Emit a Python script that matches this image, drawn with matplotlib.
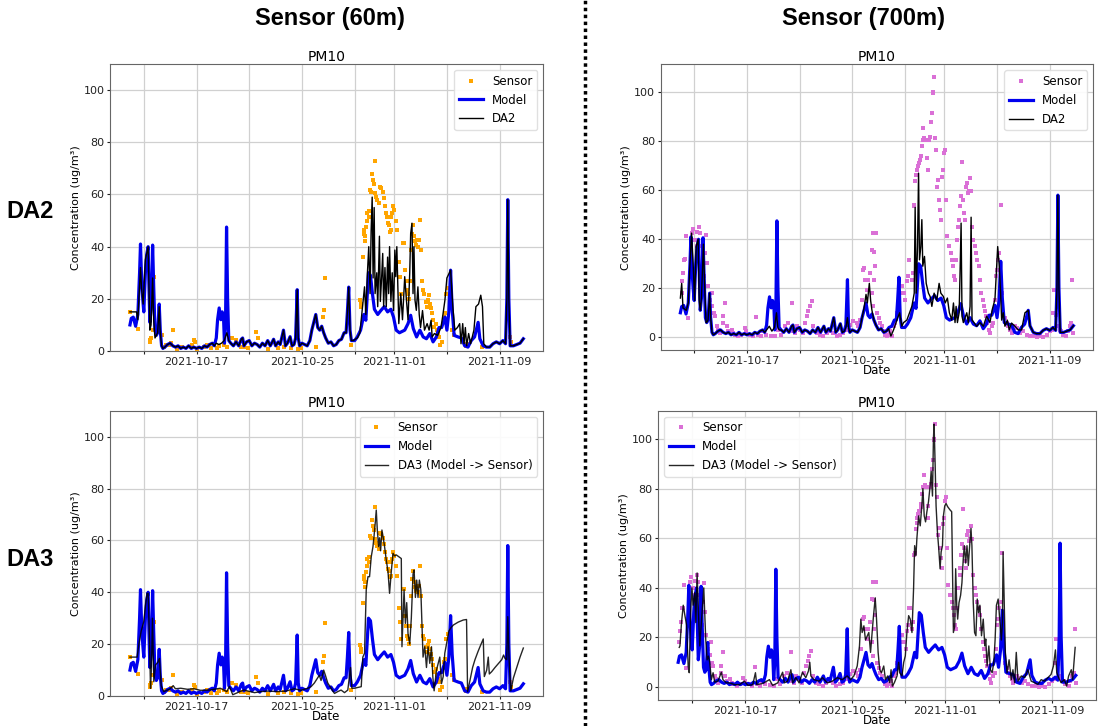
import numpy as np
import pandas as pd
import matplotlib
matplotlib.use("Agg")
import matplotlib.pyplot as plt
from matplotlib.lines import Line2D

# ---------------- data (time in days after 2021-10-13 00:00, value in ug/m3) ----------------
BASE = pd.Timestamp("2021-10-13")

model_pts = [
    (-1.05, 10), (-0.95, 12.5), (-0.8, 13), (-0.62, 9.5), (-0.45, 14), (-0.32, 30), (-0.25, 41),
    (-0.17, 28), (-0.08, 20), (0.0, 15), (0.12, 30), (0.22, 37), (0.33, 40), (0.39, 25), (0.46, 11),
    (0.55, 16), (0.67, 40.6), (0.75, 25), (0.85, 8), (0.95, 6), (1.05, 7), (1.17, 18), (1.25, 8),
    (1.35, 2), (1.45, 1), (1.6, 1.5), (1.8, 2.5), (2.0, 3), (2.2, 2), (2.4, 1.5), (2.6, 2), (2.8, 1),
    (3.0, 1.5), (3.2, 1), (3.4, 2), (3.6, 1), (3.8, 1.5), (4.0, 1), (4.2, 1.5), (4.4, 1), (4.6, 2),
    (4.8, 1.5), (5.0, 2.5), (5.2, 3), (5.35, 2), (5.5, 5), (5.6, 12), (5.72, 16.5), (5.85, 12),
    (5.95, 15), (6.05, 13), (6.12, 3), (6.2, 10), (6.28, 47.5), (6.36, 20), (6.45, 4), (6.6, 3),
    (6.8, 2), (7.0, 3.5), (7.2, 2), (7.4, 4.5), (7.5, 5), (7.6, 2), (7.8, 3.5), (8.0, 4), (8.2, 2),
    (8.4, 3), (8.6, 2.5), (8.8, 1.5), (9.0, 3), (9.2, 2), (9.4, 4), (9.6, 2), (9.85, 4.5), (10.0, 2),
    (10.2, 3.5), (10.35, 2.5), (10.6, 8), (10.75, 2), (10.9, 3), (11.1, 5.5), (11.25, 2), (11.4, 2.5),
    (11.52, 5), (11.64, 23.5), (11.72, 5), (11.82, 2), (12.0, 3), (12.2, 2.5), (12.4, 2), (12.6, 4),
    (12.75, 8), (12.9, 11), (13.05, 14), (13.2, 9), (13.35, 8), (13.5, 9.5), (13.65, 7), (13.8, 5),
    (14.0, 3), (14.2, 3.5), (14.4, 2), (14.6, 2.5), (14.8, 4), (15.0, 4.5), (15.2, 7), (15.35, 7),
    (15.45, 15), (15.55, 24.5), (15.65, 8), (15.75, 4), (16.0, 4), (16.2, 5.4), (16.45, 8), (16.7, 14),
    (16.85, 11.8), (17.05, 30), (17.2, 29), (17.35, 22), (17.5, 16), (17.75, 14), (18.0, 15.6),
    (18.25, 17), (18.5, 15), (18.75, 16), (18.95, 13), (19.15, 8), (19.4, 7), (19.8, 8), (20.05, 10.5),
    (20.25, 13.7), (20.45, 8.6), (20.7, 5.4), (20.95, 8), (21.2, 5.4), (21.45, 4.7), (21.7, 6.7),
    (21.95, 3.5), (22.2, 5.4), (22.4, 9), (22.6, 9), (22.85, 13), (23.0, 8), (23.15, 15), (23.28, 31),
    (23.4, 16), (23.55, 6), (23.85, 5.4), (24.1, 5), (24.35, 2), (24.6, 1.5), (24.85, 4), (25.1, 5.4),
    (25.37, 11), (25.5, 4.7), (25.75, 2), (26.0, 1.5), (26.25, 1.5), (26.5, 2.8), (26.75, 3.5),
    (27.0, 2.8), (27.25, 4), (27.45, 2.8), (27.55, 20), (27.62, 58), (27.7, 20), (27.8, 2), (28.05, 2),
    (28.3, 2.5), (28.55, 3), (28.8, 4.7),
]

# DA2 at the 60 m sensor: stretches where it departs from the model
da2_60_start = [
    (-1.05, 15), (-0.55, 15), (-0.45, 12), (-0.32, 25), (-0.25, 32), (-0.17, 24), (-0.05, 18),
    (0.12, 35), (0.25, 38), (0.33, 40), (0.4, 22), (0.46, 8), (0.55, 10), (0.67, 28), (0.75, 12),
    (0.85, 5), (0.95, 6), (1.05, 7), (1.17, 17), (1.25, 7), (1.35, 2),
]
da2_60_mid = [(5.5, 3), (5.7, 2.5), (5.9, 3), (6.1, 4), (6.3, 7), (6.45, 4)]
da2_60_event = [
    (15.9, 4), (16.2, 5), (16.4, 7), (16.6, 17), (16.75, 24.6), (16.85, 14), (16.97, 30), (17.07, 40),
    (17.17, 22), (17.25, 46), (17.33, 59), (17.4, 28), (17.48, 55), (17.55, 22), (17.68, 30),
    (17.75, 17), (17.88, 44), (17.95, 19), (18.05, 28.5), (18.13, 37.4), (18.2, 17), (18.3, 32),
    (18.4, 17), (18.5, 36), (18.58, 22), (18.65, 40), (18.75, 19), (18.85, 30), (18.95, 15.5),
    (19.05, 38.7), (19.12, 28.5), (19.2, 40), (19.35, 10.5), (19.5, 22), (19.63, 12), (19.8, 28.5),
    (19.93, 19.5), (20.05, 12), (20.18, 30), (20.25, 45), (20.35, 49), (20.43, 22), (20.5, 40),
    (20.58, 19.5), (20.68, 15.6), (20.8, 24.6), (20.9, 14), (21.0, 9), (21.15, 15.5), (21.3, 8),
    (21.5, 10.5), (21.65, 8), (21.8, 11.8), (21.88, 5.4), (22.05, 6.7), (22.3, 6), (22.55, 9),
    (22.7, 14), (22.85, 19.5), (23.0, 28), (23.28, 31), (23.45, 17), (23.6, 8), (23.8, 9),
    (23.97, 10.5), (24.07, 2.8), (24.2, 10.5), (24.3, 2.8), (24.4, 9), (24.5, 2), (24.65, 6.7),
    (24.8, 2.8), (25.05, 8), (25.2, 17), (25.4, 18), (25.57, 21.4), (25.7, 17), (25.8, 2.8),
]

# DA2 at the 700 m sensor
da2_700_start = [
    (-1.05, 16), (-0.95, 22), (-0.85, 12), (-0.6, 11), (-0.45, 14), (-0.32, 30), (-0.2, 42.5),
    (-0.08, 30), (0.03, 15), (0.15, 37), (0.3, 40), (0.38, 15), (0.46, 11), (0.55, 16), (0.7, 38),
    (0.8, 20), (0.9, 6),
]
da2_700_mid = [(5.5, 3), (5.7, 4.5), (5.9, 2.5), (6.1, 4), (6.25, 10), (6.35, 4), (6.45, 3)]
da2_700_mid2 = [(11.52, 4), (11.64, 8), (11.72, 4)]
da2_700_mid3 = [(12.75, 8), (12.9, 12), (13.05, 17.5), (13.15, 14), (13.3, 22), (13.4, 15), (13.5, 11)]
da2_700_event = [
    (14.76, 3.5), (14.94, 0.5), (15.14, 3), (15.39, 7), (15.6, 10), (15.77, 4.5), (15.9, 6),
    (16.15, 7), (16.35, 10), (16.53, 12.6), (16.71, 18), (16.78, 53), (16.86, 18), (16.96, 37),
    (17.04, 67), (17.11, 31.6), (17.21, 37), (17.29, 48), (17.36, 29), (17.49, 33), (17.62, 22),
    (17.79, 18), (17.92, 16.6), (18.05, 12.6), (18.22, 18), (18.42, 15), (18.6, 22), (18.73, 18),
    (18.93, 16.6), (19.06, 14), (19.23, 16), (19.38, 10), (19.56, 7), (19.69, 14), (19.81, 6),
    (19.89, 12.6), (19.99, 6), (20.12, 10), (20.19, 26), (20.27, 46.6), (20.34, 8.6), (20.44, 6),
    (20.7, 10), (20.82, 6), (20.95, 12.6), (21.03, 49), (21.1, 7), (21.25, 6), (21.45, 4.5),
    (21.7, 6), (21.96, 4.5), (22.21, 8.6), (22.46, 6), (22.64, 11.4), (22.84, 15.4), (23.05, 37),
    (23.17, 29), (23.27, 18), (23.35, 7), (23.47, 10), (23.6, 4.5), (23.78, 7), (23.93, 3),
    (24.1, 5.8), (24.36, 4.5), (24.61, 3), (24.86, 3), (25.12, 10),
]

da3_60_pts = [
    (-1.05, 15), (-0.51, 15), (-0.38, 19.7), (-0.2, 25), (0.0, 28.7), (0.13, 35), (0.25, 39.6),
    (0.33, 39.6), (0.43, 22), (0.51, 3), (0.58, 10.7), (0.66, 30), (0.76, 5.5), (0.89, 12),
    (1.07, 13), (1.19, 14.5), (1.32, 4), (1.52, 1.7), (1.8, 2.3), (2.0, 2.8), (2.23, 4), (2.4, 2.8),
    (2.8, 3), (3.3, 2.6), (3.8, 2.8), (4.3, 2.2), (5.0, 2.3), (5.8, 3), (6.3, 1.7), (6.5, 3.7),
    (6.75, 0.5), (7.3, 1.7), (7.6, 2.3), (8.4, 1.3), (8.88, 1.7), (9.4, 1.9), (10.15, 1.7),
    (10.8, 1.9), (11.42, 2.8), (11.93, 2.2), (12.44, 3), (12.69, 3.6), (12.94, 5), (13.2, 7),
    (13.32, 8), (13.45, 6), (13.65, 10), (13.78, 8), (13.96, 5), (14.21, 3), (14.47, 1),
    (14.72, 1.7), (14.97, 2.3), (15.23, 1.3), (15.48, 2.3), (15.69, 11), (15.79, 3), (15.99, 3),
    (16.24, 3.3), (16.5, 3.6), (16.62, 15), (16.75, 16.5), (16.88, 41), (17.01, 46), (17.13, 46),
    (17.26, 53.7), (17.39, 57.6), (17.46, 61), (17.56, 66.6), (17.64, 71.7), (17.72, 64),
    (17.82, 57.6), (17.89, 61), (17.97, 56), (18.07, 64), (18.17, 61), (18.27, 57.6), (18.4, 52.4),
    (18.53, 48), (18.65, 39.6), (18.78, 48), (18.91, 55), (19.04, 54), (19.16, 54.4), (19.54, 53),
    (19.59, 19), (19.75, 41), (19.85, 28), (19.95, 36), (20.05, 24), (20.18, 20), (20.3, 30),
    (20.43, 47), (20.51, 48.6), (20.61, 38), (20.71, 44.7), (20.81, 38), (20.91, 44.7), (21.02, 41),
    (21.12, 25), (21.19, 15), (21.32, 19), (21.45, 11), (21.57, 19), (21.7, 12.6), (21.83, 19),
    (21.93, 7.5), (22.03, 2), (22.21, 10), (22.34, 12.6), (22.46, 15), (22.59, 4.8), (22.72, 7.5),
    (22.84, 16.5), (22.97, 20), (23.15, 25), (23.3, 26.3), (23.5, 27.4), (23.86, 28.5),
    (24.24, 29.3), (24.49, 29.5), (24.57, 1.7), (24.75, 6), (24.95, 11), (25.13, 14), (25.35, 17),
    (25.51, 19), (25.76, 22), (25.84, 7.5), (26.02, 10), (26.14, 15), (26.22, 8.5), (26.4, 9.4),
    (26.65, 11), (26.9, 12.5), (27.16, 14), (27.3, 15.8), (27.41, 14.5), (27.54, 14), (27.62, 30.6),
    (27.72, 14), (27.85, 2), (28.05, 7), (28.3, 11), (28.55, 15), (28.8, 18.5),
]

da3_700_pts = [
    (-0.97, 16), (-0.92, 16.6), (-0.8, 26), (-0.67, 33), (-0.55, 29), (-0.42, 25), (-0.3, 8.5),
    (-0.22, 5.8), (-0.12, 30), (-0.02, 40), (0.07, 33), (0.2, 38), (0.27, 26), (0.37, 46), (0.5, 26),
    (0.57, 16.6), (0.7, 27), (0.87, 40), (1.02, 19), (1.12, 11), (1.22, 12.5), (1.32, 10), (1.44, 3),
    (1.57, 5.8), (1.69, 2), (1.94, 2.5), (2.19, 6), (2.31, 3), (2.56, 1.7), (2.81, 1.7), (3.18, 1),
    (3.56, 1), (3.93, 2.4), (4.18, 0.7), (4.55, 1), (4.75, 5.8), (4.85, 1), (5.3, 1.5), (5.8, 3),
    (6.04, 0.7), (6.42, 1.7), (6.79, 6), (6.92, 1.7), (7.16, 2.4), (7.41, 7), (7.54, 1.7), (7.79, 3.8),
    (8.03, 1.7), (8.28, 6), (8.53, 3.8), (8.73, 6.5), (8.83, 10), (8.91, 4.5), (9.15, 3), (9.53, 2.4),
    (9.78, 3.8), (10.15, 1.7), (10.52, 2.4), (10.9, 3.8), (11.27, 3), (11.64, 4.5), (11.89, 3),
    (12.14, 4.5), (12.39, 8.5), (12.56, 16.6), (12.66, 27.4), (12.76, 22), (12.89, 24.7), (13.01, 19),
    (13.26, 22), (13.39, 14), (13.59, 27.4), (13.74, 36), (13.84, 27.4), (13.96, 14), (14.08, 7),
    (14.21, 5.8), (14.38, 8.5), (14.51, 3), (14.68, 4.5), (14.83, 1.8), (14.93, 7), (15.03, 0.4),
    (15.18, 1.8), (15.38, 4.5), (15.5, 10), (15.58, 5.8), (15.75, 4.5), (15.88, 10), (16.0, 12.6),
    (16.12, 22), (16.25, 28.8), (16.37, 27.4), (16.5, 22), (16.62, 39.6), (16.7, 57), (16.8, 53),
    (16.87, 60), (17.0, 69), (17.12, 65), (17.24, 73), (17.32, 80), (17.42, 69), (17.52, 66.6),
    (17.62, 70.7), (17.74, 74.7), (17.87, 81.5), (17.94, 87), (18.04, 77), (18.11, 100), (18.16, 106),
    (18.24, 89.6), (18.31, 73), (18.41, 62.6), (18.51, 55.8), (18.61, 47.7), (18.69, 54.5), (18.79, 57),
    (18.86, 69), (18.96, 73), (19.06, 74), (19.18, 72.7), (19.36, 71.4), (19.48, 70.7), (19.61, 22),
    (19.71, 24.5), (19.78, 47.7), (19.86, 33), (19.93, 27.4), (20.03, 34), (20.15, 37), (20.25, 42),
    (20.35, 51.8), (20.43, 57), (20.53, 50), (20.63, 57), (20.73, 49), (20.85, 58.5), (20.93, 64),
    (21.0, 57), (21.1, 34), (21.2, 22), (21.3, 20.7), (21.4, 35.5), (21.5, 30), (21.6, 33),
    (21.72, 20.7), (21.85, 27.4), (21.97, 16.6), (22.04, 19.4), (22.14, 8.5), (22.27, 16.6),
    (22.39, 7), (22.52, 5.8), (22.64, 9.9), (22.74, 19), (22.84, 33), (22.97, 35.5), (23.09, 27.4),
    (23.21, 19), (23.29, 26), (23.34, 54.5), (23.44, 30), (23.51, 14), (23.64, 5.8), (23.79, 11),
    (23.96, 3), (24.08, 7), (24.21, 1.8), (24.33, 14), (24.46, 2.4), (24.71, 4.5), (24.96, 3.8),
    (25.2, 7), (25.45, 2.4), (25.7, 1.8), (25.95, 1.1), (26.2, 3), (26.45, 2.4), (26.7, 3.8),
    (26.94, 5.1), (27.12, 8.5), (27.27, 15), (27.37, 5.8), (27.51, 3.8), (27.69, 1.8), (27.94, 3),
    (28.11, 0.4), (28.26, 4.5), (28.36, 5.8), (28.46, 7), (28.56, 3), (28.75, 16),
]

sensor_60_pts = [
    (-1.07, 15), (-0.46, 8.6), (0.46, 3.5), (0.48, 4.4), (0.56, 5.1), (0.69, 8), (0.76, 28.5),
    (1.4, 6), (1.52, 1.5), (1.65, 2.2), (1.9, 2.2), (2.03, 3.1), (2.18, 8.2), (2.54, 0.9), (2.92, 1.5),
    (3.68, 2.2), (3.81, 4.4), (3.85, 3.5), (4.06, 0.9), (4.57, 1.5), (4.82, 2.2), (5.08, 1.3),
    (5.58, 1.3), (5.71, 1.8), (6.09, 2.2), (6.35, 1.5), (6.73, 5.1), (6.98, 4.1), (7.36, 1.5),
    (7.61, 1.5), (7.87, 1.3), (8.55, 7.3), (8.63, 5.1), (9.39, 0.9), (10.15, 1.3), (10.66, 1.5),
    (11.17, 1.3), (11.68, 0.9), (11.93, 1.3), (13.07, 1.5), (13.6, 13), (13.65, 15.6), (13.73, 28),
    (15.75, 2.2), (16.43, 19.5), (16.45, 18.2), (16.51, 17), (16.61, 36), (16.69, 45), (16.7, 46.4),
    (16.76, 44), (16.78, 42), (16.84, 47.7), (16.94, 50), (16.96, 53), (17.07, 51.5), (17.08, 53.5),
    (17.14, 61.8), (17.22, 61), (17.32, 68), (17.4, 65.6), (17.47, 64), (17.52, 73), (17.57, 60.5),
    (17.65, 59), (17.73, 58), (17.83, 56.7), (17.93, 63), (18.03, 62.4), (18.13, 61), (18.21, 58.6),
    (18.28, 55.4), (18.36, 52.8), (18.44, 51.5), (18.51, 49), (18.59, 48.3), (18.66, 45.8),
    (18.74, 46.4), (18.79, 51.5), (18.87, 52.8), (18.94, 55.4), (19.02, 54), (19.1, 50), (19.2, 46.4),
    (19.35, 34), (19.45, 28.5), (19.55, 22), (19.65, 41.3), (19.73, 41.3), (19.81, 31), (19.88, 27),
    (19.96, 23.3), (20.04, 22), (20.11, 20), (20.19, 27), (20.26, 38.7), (20.34, 45), (20.42, 48.3),
    (20.49, 44), (20.57, 42), (20.64, 40.6), (20.72, 42.6), (20.8, 40), (20.87, 42.4), (20.97, 50.3),
    (21.05, 38.7), (21.13, 27), (21.2, 23.3), (21.28, 22), (21.38, 18.8), (21.46, 17), (21.53, 19.5),
    (21.61, 21.4), (21.69, 18.2), (21.76, 16.3), (21.84, 14.4), (21.91, 11.8), (22.02, 9.2),
    (22.14, 10.5), (22.22, 8), (22.29, 6.7), (22.4, 5.4), (22.47, 2.2), (22.65, 3.5), (22.78, 13),
    (22.85, 14.4), (22.95, 22), (23.06, 24), (23.41, 8), (23.54, 6), (24.43, 2), (24.55, 2.8),
    (25.7, 1.5), (27.78, 5.4), (27.85, 3.5),
]

sensor_700_pts = [
    (-0.96, 18), (-0.89, 22.8), (-0.87, 26.2), (-0.78, 31.7), (-0.71, 31.9), (-0.63, 41.2),
    (-0.46, 7.9), (-0.33, 26.2), (-0.2, 42.5), (-0.08, 44.2), (0.05, 39.8), (0.18, 37.1), (0.23, 42.8),
    (0.33, 45.2), (0.43, 42.5), (0.56, 37.1), (0.68, 28.9), (0.73, 24.9), (0.81, 34.4), (0.89, 41.8),
    (0.94, 30.3), (1.06, 20.8), (1.19, 15.4), (1.32, 12.9), (1.39, 18), (1.49, 9.9), (1.57, 8.6),
    (1.7, 4.5), (1.82, 3.1), (1.95, 1.8), (2.15, 5.8), (2.2, 8.6), (2.33, 14), (2.46, 4.5), (2.58, 2.4),
    (2.84, 3.1), (2.96, 1.8), (3.09, 1.1), (3.34, 0.4), (3.59, 1.1), (3.85, 3.8), (3.97, 2.4),
    (4.23, 1.1), (4.48, 0.4), (4.73, 8.3), (4.86, 1.1), (5.11, 0.4), (5.24, 2.4), (5.49, 1.1),
    (5.87, 0.7), (6.13, 0.4), (6.38, 3.1), (6.63, 1.1), (6.89, 4.5), (7.14, 5.8), (7.39, 14),
    (7.52, 2.4), (7.65, 1.8), (7.77, 4.5), (8.03, 3.1), (8.28, 1.8), (8.41, 5.8), (8.53, 8.6),
    (8.66, 10.6), (8.78, 12.6), (8.91, 14.7), (9.04, 4.5), (9.29, 1.8), (9.54, 1.1), (9.8, 0.4),
    (10.05, 1.8), (10.3, 2.4), (10.56, 1.8), (10.81, 0.4), (11.06, 1.1), (11.32, 1.8), (11.57, 3.1),
    (11.82, 5.2), (12.08, 6.5), (12.33, 5.8), (12.46, 4.5), (12.58, 7), (12.71, 15.4), (12.84, 27.6),
    (12.89, 28.3), (12.96, 23.5), (13.09, 19.4), (13.22, 23.5), (13.34, 26.2), (13.47, 35.7),
    (13.59, 42.5), (13.5, 18), (13.58, 12.6), (13.63, 23.5), (13.68, 35), (13.75, 28.9),
    (13.83, 42.5), (13.88, 9.9), (14.0, 7.9), (14.13, 5.8), (14.26, 4.5), (14.38, 2.4), (14.51, 1.1),
    (14.64, 0.4), (14.76, 1.1), (14.89, 2.4), (15.02, 0.4), (15.14, 4.5), (15.27, 5.8), (15.39, 9.9),
    (15.52, 15.4), (15.65, 18), (15.77, 20.8), (15.9, 18), (16.03, 15.4), (16.15, 22.8), (16.2, 24.9),
    (16.28, 31.7), (16.35, 31.7), (16.53, 23.5), (16.61, 26.2), (16.66, 53.4), (16.71, 54.1),
    (16.78, 63.6), (16.86, 66.3), (16.91, 68.3), (16.98, 69.7), (17.06, 71.1), (17.16, 72.4),
    (17.21, 73.8), (17.29, 77.9), (17.34, 80.6), (17.41, 85.3), (17.49, 81.3), (17.56, 80.6),
    (17.67, 73.1), (17.72, 68.3), (17.82, 80.6), (17.92, 81.9), (17.97, 88), (18.05, 91.4),
    (18.12, 99.6), (18.17, 99.9), (18.22, 106.1), (18.3, 81.3), (18.35, 76.5), (18.42, 61.5),
    (18.5, 64.3), (18.58, 56.1), (18.65, 52), (18.73, 48), (18.8, 65.6), (18.88, 68.3), (18.98, 75.1),
    (19.08, 76.5), (19.13, 56.1), (19.23, 41.2), (19.38, 37.1), (19.48, 34.4), (19.56, 31.7),
    (19.64, 28.9), (19.74, 24.9), (19.81, 23.5), (19.89, 31.7), (19.99, 39.8), (20.07, 45.2),
    (20.14, 48), (20.19, 53.4), (20.27, 57.5), (20.34, 71.7), (20.42, 56.1), (20.49, 50.7),
    (20.57, 48), (20.65, 61.5), (20.72, 62.9), (20.8, 58.8), (20.87, 59.5), (20.95, 64.9),
    (21.03, 59.5), (21.1, 45.2), (21.2, 39.8), (21.3, 37.1), (21.4, 34.4), (21.51, 31.7), (21.61, 28.9),
    (21.71, 23.5), (21.81, 18), (21.91, 15.4), (22.01, 12.6), (22.09, 10.6), (22.16, 8.6), (22.26, 5.8),
    (22.36, 3.1), (22.46, 1.8), (22.59, 4.5), (22.72, 5.8), (22.84, 15.4), (22.92, 24.9), (22.97, 27.6),
    (23.05, 31.7), (23.12, 27.6), (23.17, 34.4), (23.27, 54.1), (23.37, 18), (23.47, 9.9), (23.6, 7.9),
    (23.73, 5.8), (23.85, 4.5), (23.98, 3.1), (24.1, 1.8), (24.23, 3.8), (24.36, 4.5), (24.48, 3.8),
    (24.74, 1.8), (24.99, 2.4), (25.24, 1.1), (25.49, 0.4), (25.75, 0.4), (26.0, 0.1), (26.25, 0.4),
    (26.51, 0.1), (26.76, 1.1), (27.01, 2.4), (27.14, 3.1), (27.26, 9.9), (27.34, 19.4), (27.46, 9.2),
    (27.57, 4.5), (27.77, 2.8), (27.89, 2.4), (28.02, 1.1), (28.27, 0.4), (28.4, 2.4), (28.53, 4.5),
    (28.65, 5.8), (28.73, 23.5), (28.8, 1.8),
]

tick_dates = ["2021-10-13", "2021-10-17", "2021-10-21", "2021-10-25",
              "2021-10-29", "2021-11-01", "2021-11-05", "2021-11-09"]
tick_labels = ["", "2021-10-17", "", "2021-10-25", "", "2021-11-01", "", "2021-11-09"]

col_titles = ["Sensor (60m)", "Sensor (700m)"]
row_titles = ["DA2", "DA3"]


# ---------------- helpers ----------------
def splice(base, *segments):
    pts = list(base)
    for seg in segments:
        lo, hi = seg[0][0], seg[-1][0]
        pts = [p for p in pts if p[0] < lo or p[0] > hi] + list(seg)
    return sorted(pts)


def to_xy(pts):
    pts = sorted(pts)
    d = np.array([p[0] for p in pts], dtype=float)
    v = np.array([p[1] for p in pts], dtype=float)
    return BASE + pd.to_timedelta(d, unit="D"), v


da2_60_pts = splice(model_pts, da2_60_start, da2_60_mid, da2_60_event)
da2_700_pts = splice(model_pts, da2_700_start, da2_700_mid, da2_700_mid2, da2_700_mid3, da2_700_event)

# ---------------- figure ----------------
plt.rcParams["font.family"] = ["DejaVu Sans"]
fig = plt.figure(figsize=(10.99, 7.26), dpi=100)

positions = {
    (0, 0): [0.1001, 0.5165, 0.394, 0.3953],
    (0, 1): [0.6012, 0.5179, 0.3934, 0.3935],
    (1, 0): [0.1001, 0.0413, 0.394, 0.393],
    (1, 1): [0.599, 0.0358, 0.398, 0.3985],
}

panels = {
    (0, 0): (sensor_60_pts, "orange", da2_60_pts, "DA2", "upper right", False, (0, 110)),
    (0, 1): (sensor_700_pts, "orchid", da2_700_pts, "DA2", "upper right", True, None),
    (1, 0): (sensor_60_pts, "orange", da3_60_pts, "DA3 (Model -> Sensor)", "upper right", True, (0, 110)),
    (1, 1): (sensor_700_pts, "orchid", da3_700_pts, "DA3 (Model -> Sensor)", "upper left", True, None),
}

tick_pos = pd.to_datetime(tick_dates)

for key, (spts, scol, dpts, dlabel, loc, xlabel, ylim) in panels.items():
    ax = fig.add_axes(positions[key])
    sx, sy = to_xy(spts)
    mx, my = to_xy(model_pts)
    dx, dy = to_xy(dpts)
    ax.plot(sx, sy, linestyle="none", marker="s", markersize=2.8, color=scol,
            markeredgewidth=0, label="Sensor")
    ax.plot(mx, my, color="#0000ee", lw=2.3, label="Model")
    if dlabel == "DA2":
        ax.plot(dx, dy, color="black", lw=1.0, label=dlabel)
    else:
        ax.plot(dx, dy, color="black", lw=1.0, alpha=0.85, label=dlabel)
    if ylim is not None:
        ax.set_ylim(*ylim)
    ax.set_xticks(tick_pos)
    ax.set_xticklabels(tick_labels)
    ax.tick_params(labelsize=8, colors="#222222", width=0.8, length=2.5, pad=1.5)
    ax.grid(True, color="#d0d0d0", lw=0.9)
    ax.set_axisbelow(True)
    for sp in ax.spines.values():
        sp.set_color("#666666")
    ax.set_title("PM10", fontsize=10, pad=2.5)
    ax.set_ylabel("Concentration (ug/m³)", fontsize=8, labelpad=2)
    if xlabel:
        ax.set_xlabel("Date", fontsize=8.5, labelpad=-1)
    ax.legend(loc=loc, fontsize=8.5, framealpha=0.9, edgecolor="#dddddd")

# headers and row labels
for xc, txt in zip([330, 863], col_titles):
    fig.text(xc / 1099, 1 - 19 / 726, txt, ha="center", va="center",
             fontsize=17, fontweight="bold", family="Liberation Sans")
for yc, txt in zip([212, 560], row_titles):
    fig.text(30 / 1099, 1 - yc / 726, txt, ha="center", va="center",
             fontsize=17, fontweight="bold", family="Liberation Sans")

fig.add_artist(Line2D([585 / 1099, 585 / 1099], [0, 1], transform=fig.transFigure,
                      color="black", lw=2.5, linestyle=(0, (1, 1))))

fig.savefig("out.png", dpi=100)
